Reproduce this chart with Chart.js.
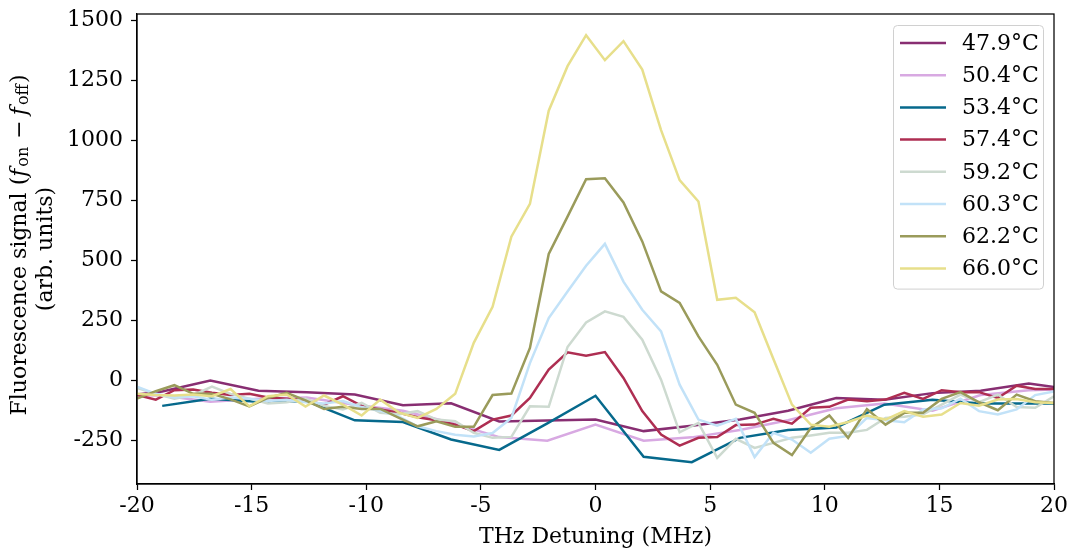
<!DOCTYPE html>
<html>
<head>
<meta charset="utf-8">
<script src="https://cdn.jsdelivr.net/npm/chart.js@4.4.0/dist/chart.umd.min.js"></script>
<style>
html,body{margin:0;padding:0;background:#fff;}
#wrap{width:1076px;height:552px;}
</style>
</head>
<body>
<div id="wrap"><canvas id="c" width="1076" height="552"></canvas></div>
<script>
// Sample positions (MHz)
const xDense = [-20,-19.18,-18.37,-17.55,-16.73,-15.92,-15.10,-14.29,-13.47,-12.65,-11.84,-11.02,-10.20,-9.39,-8.57,-7.76,-6.94,-6.12,-5.31,-4.49,-3.67,-2.86,-2.04,-1.22,-0.41,0.41,1.22,2.04,2.86,3.67,4.49,5.31,6.12,6.94,7.76,8.57,9.39,10.20,11.02,11.84,12.65,13.47,14.29,15.10,15.92,16.73,17.55,18.37,19.18,20];
const xSparse = [-21,-18.9,-16.8,-14.7,-12.6,-10.5,-8.4,-6.3,-4.2,-2.1,0,2.1,4.2,6.3,8.4,10.5,12.6,14.7,16.8,18.9,21];
const xTeal = [-18.9,-16.8,-14.7,-12.6,-10.5,-8.4,-6.3,-4.2,-2.1,0,2.1,4.2,6.3,8.4,10.5,12.6,14.7,16.8,18.9,21];

// Series values (arb. units)
const y479 = [-70,-45,0,-42,-48,-58,-102,-94,-170,-166,-162,-210,-188,-162,-125,-72,-80,-52,-42,-12,-40];
const y504 = [-60,-62,-88,-75,-70,-100,-125,-175,-235,-250,-183,-250,-236,-205,-165,-115,-95,-125,-60,-40,-35];
const y534 = [-105,-75,-88,-85,-165,-172,-245,-288,-178,-63,-317,-339,-238,-205,-195,-100,-80,-95,-95,-95];
const y574 = [-60,-79,-40,-37,-50,-60,-55,-70,-75,-82,-100,-65,-105,-120,-134,-152,-165,-183,-210,-162,-145,-72,46,118,104,119,11,-127,-224,-270,-238,-235,-185,-183,-159,-179,-113,-109,-79,-86,-79,-51,-76,-40,-48,-48,-72,-21,-35,-35];
const y592 = [-30,-55,-75,-60,-25,-55,-75,-95,-90,-75,-105,-120,-93,-134,-140,-127,-162,-169,-217,-238,-234,-107,-109,140,242,288,265,170,4,-215,-176,-321,-242,-280,-259,-238,-228,-217,-217,-205,-155,-150,-140,-100,-58,-90,-58,-110,-113,-65];
const y603 = [-25,-55,-70,-65,-80,-70,-75,-85,-80,-90,-95,-85,-110,-125,-150,-190,-210,-225,-232,-218,-155,73,260,371,478,569,412,295,205,-17,-162,-187,-159,-318,-217,-245,-300,-242,-230,-155,-165,-173,-120,-115,-75,-127,-141,-120,-60,-45];
const y622 = [-75,-44,-19,-55,-55,-78,-107,-72,-51,-82,-118,-109,-118,-118,-155,-190,-169,-192,-192,-60,-54,136,527,682,838,842,741,579,371,323,184,66,-100,-134,-259,-310,-197,-145,-238,-118,-183,-134,-134,-76,-48,-90,-123,-58,-86,-93];
const y660 = [-55,-60,-62,-58,-65,-35,-107,-65,-58,-108,-62,-100,-145,-79,-133,-155,-118,-55,157,307,599,735,1123,1308,1437,1333,1412,1294,1042,834,745,336,345,284,90,-100,-183,-192,-172,-145,-162,-127,-150,-141,-93,-104,-79,-76,-90,-93];

const seriesLabels = ['47.9°C','50.4°C','53.4°C','57.4°C','59.2°C','60.3°C','62.2°C','66.0°C'];
const seriesColors = ['#882E72','#D8A9E2','#06698C','#AE2E52','#CDDAD0','#C2E2F8','#9A9B5B','#E7DF8B'];
const xTicks = [-20,-15,-10,-5,0,5,10,15,20];
const yTicks = [-250,0,250,500,750,1000,1250,1500];

const xs = [xSparse, xSparse, xTeal, xDense, xDense, xDense, xDense, xDense];
const ys = [y479, y504, y534, y574, y592, y603, y622, y660];

const FONT = "'DejaVu Serif', serif";
const FS = 22;

const datasets = ys.map((yv, i) => ({
  label: seriesLabels[i],
  data: yv.map((v, j) => ({x: xs[i][j], y: v})),
  borderColor: seriesColors[i],
  backgroundColor: seriesColors[i],
  borderWidth: 2.5,
  pointRadius: 0,
  tension: 0,
  fill: false,
  order: ys.length - i
}));

const framePlugin = {
  id: 'frame',
  afterDatasetsDraw(chart) {
    const {ctx, chartArea: a} = chart;
    ctx.save();
    ctx.strokeStyle = '#000';
    ctx.lineWidth = 1.25;
    ctx.strokeRect(a.left, a.top, a.right - a.left, a.bottom - a.top);
    ctx.restore();
  }
};

const legendPlugin = {
  id: 'boxLegend',
  afterDraw(chart) {
    const {ctx, chartArea: a} = chart;
    const dsets = chart.data.datasets;
    const w = 150, rowH = 32.2;
    const x0 = a.right - w - 11, y0 = a.top + 11;
    const h = rowH * dsets.length + 6;
    ctx.save();
    ctx.beginPath();
    ctx.roundRect(x0 + 0.5, y0 + 0.5, w, h, 4);
    ctx.fillStyle = 'rgba(255,255,255,0.85)';
    ctx.fill();
    ctx.strokeStyle = '#d0d0d0';
    ctx.lineWidth = 1;
    ctx.stroke();
    ctx.font = FS + 'px ' + FONT;
    ctx.textBaseline = 'middle';
    ctx.fillStyle = '#000';
    dsets.forEach((d, i) => {
      const cy = y0 + 18 + i * rowH;
      ctx.beginPath();
      ctx.moveTo(x0 + 7, cy);
      ctx.lineTo(x0 + 53, cy);
      ctx.strokeStyle = d.borderColor;
      ctx.lineWidth = 2.5;
      ctx.stroke();
      ctx.fillText(d.label, x0 + 69, cy + 1);
    });
    ctx.restore();
  }
};

const titlesPlugin = {
  id: 'axisTitles',
  afterDraw(chart) {
    const {ctx, chartArea: a} = chart;
    const cy = (a.top + a.bottom) / 2;
    const cx = (a.left + a.right) / 2;
    const big = FS + 'px ' + FONT, ital = 'italic ' + FS + 'px ' + FONT, small = '16px ' + FONT;
    const segs = [
      {t: 'Fluorescence signal (', f: big, dy: 0, gap: 0},
      {t: 'f', f: ital, dy: 0, gap: 2},
      {t: 'on', f: small, dy: 4, gap: 3},
      {t: '\u2212', f: big, dy: 0, gap: 5, pre: 5},
      {t: 'f', f: ital, dy: 0, gap: 2},
      {t: 'off', f: small, dy: 4, gap: 1},
      {t: ')', f: big, dy: 0, gap: 0}
    ];
    ctx.save();
    ctx.fillStyle = '#000';
    ctx.textBaseline = 'middle';
    let total = 0;
    segs.forEach(s => { ctx.font = s.f; s.w = ctx.measureText(s.t).width; total += (s.pre || 0) + s.w + s.gap; });
    ctx.translate(20, cy - 4);
    ctx.rotate(-Math.PI / 2);
    let x = -total / 2;
    segs.forEach(s => { ctx.font = s.f; x += (s.pre || 0); ctx.fillText(s.t, x, s.dy); x += s.w + s.gap; });
    ctx.restore();
    ctx.save();
    ctx.fillStyle = '#000';
    ctx.font = big;
    ctx.textAlign = 'center';
    ctx.textBaseline = 'middle';
    ctx.translate(46, cy);
    ctx.rotate(-Math.PI / 2);
    ctx.fillText('(arb. units)', 0, 0);
    ctx.restore();
    // x-axis title
    ctx.save();
    ctx.fillStyle = '#000';
    ctx.font = big;
    ctx.textAlign = 'center';
    ctx.textBaseline = 'middle';
    ctx.fillText('THz Detuning (MHz)', cx, 537);
    ctx.restore();
  }
};

new Chart(document.getElementById('c'), {
  type: 'line',
  data: {datasets},
  plugins: [framePlugin, legendPlugin, titlesPlugin],
  options: {
    responsive: false,
    animation: false,
    devicePixelRatio: 1,
    layout: {padding: {left: 0, top: 14, right: 22, bottom: 0}},
    plugins: {legend: {display: false}, tooltip: {enabled: false}},
    scales: {
      x: {
        type: 'linear',
        min: -20, max: 20,
        afterFit(s) { s.height = 68; s.paddingLeft = 0; s.paddingRight = 0; },
        afterBuildTicks(s) { s.ticks = xTicks.map(v => ({value: v})); },
        ticks: {color: '#000', font: {family: FONT, size: FS}, padding: 3, maxRotation: 0,
                callback: v => String(v)},
        grid: {drawOnChartArea: false, drawTicks: true, tickLength: 6, tickColor: '#000', tickWidth: 1.25},
        border: {display: true, color: '#000', width: 1.25}
      },
      y: {
        type: 'linear',
        min: -430, max: 1525,
        afterFit(s) { s.width = 137; s.paddingTop = 0; s.paddingBottom = 0; },
        afterBuildTicks(s) { s.ticks = yTicks.map(v => ({value: v})); },
        ticks: {color: '#000', font: {family: FONT, size: FS}, padding: 8,
                callback: v => String(v)},
        grid: {drawOnChartArea: false, drawTicks: true, tickLength: 6, tickColor: '#000', tickWidth: 1.25},
        border: {display: true, color: '#000', width: 1.25}
      }
    }
  }
});
</script>
</body>
</html>
